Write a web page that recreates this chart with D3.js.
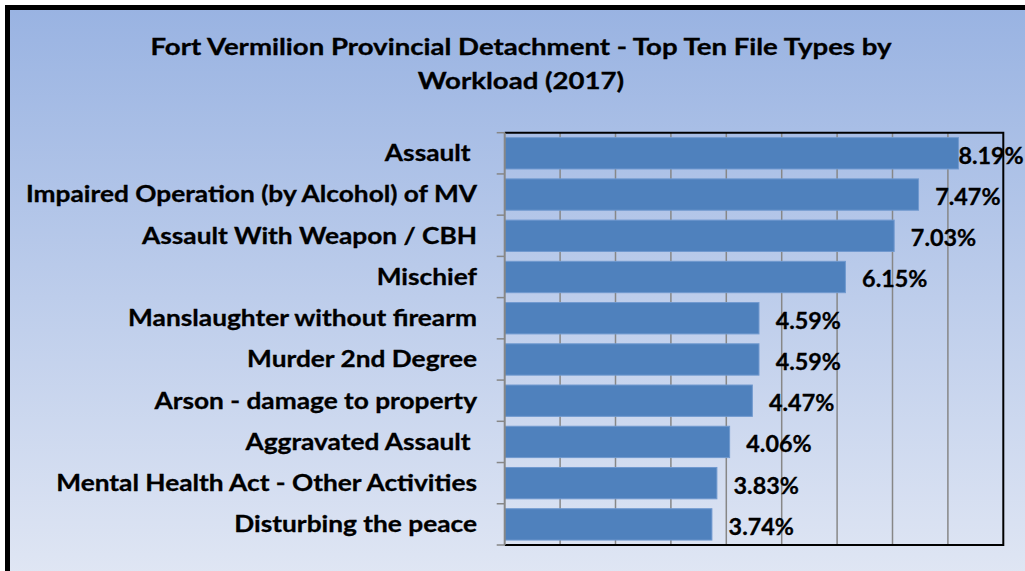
<!DOCTYPE html>
<html><head><meta charset="utf-8">
<script src="https://cdn.jsdelivr.net/npm/d3@7"></script>
<style>
html,body{margin:0;padding:0;background:#fff;}
svg text{font-family:Lato,"Open Sans",sans-serif;font-weight:700;white-space:pre;}
</style></head>
<body><svg id="c" width="1025" height="571"></svg>
<script>
const titleLines = ["Fort Vermilion Provincial Detachment - Top Ten File Types by", "Workload (2017)"];
const categories = ["Assault ", "Impaired Operation (by Alcohol) of MV", "Assault With Weapon / CBH", "Mischief",
  "Manslaughter without firearm", "Murder 2nd Degree", "Arson - damage to property", "Aggravated Assault ",
  "Mental Health Act - Other Activities", "Disturbing the peace"];
const values = [8.19, 7.47, 7.03, 6.15, 4.59, 4.59, 4.47, 4.06, 3.83, 3.74];
const xTicks = [0, 1, 2, 3, 4, 5, 6, 7, 8, 9];

(function () {
const svg = d3.select("#c");
const defs = svg.append("defs");
const grad = defs.append("linearGradient").attr("id", "bg").attr("x1", 0).attr("y1", 0).attr("x2", 0).attr("y2", 1);
grad.append("stop").attr("offset", "0%").attr("stop-color", "#99b3e2");
grad.append("stop").attr("offset", "100%").attr("stop-color", "#e1e7f4");

svg.append("rect").attr("x", 7.5).attr("y", 7.5).attr("width", 1040).attr("height", 580)
  .attr("fill", "url(#bg)").attr("stroke", "#000").attr("stroke-width", 5);

const FS = 22;

// Title
const tl = svg.append("g").selectAll("text").data(titleLines).join("text")
  .attr("x", 521).attr("y", (d, i) => 55 + i * 34)
  .attr("text-anchor", "middle").attr("font-size", FS).attr("fill", "#000")
  .attr("stroke", "#000").attr("stroke-width", 0.3).text(d => d);
const kT = 741 / tl.nodes()[0].getComputedTextLength();
tl.each(function () { const w = this.getComputedTextLength(); d3.select(this).attr("textLength", w * kT).attr("lengthAdjust", "spacingAndGlyphs"); });

const pL = 504.7, pR = 1003.3, pT = 132.7, pB = 545;
const x = d3.scaleLinear().domain([0, 9]).range([pL, pR]);
const y = d3.scaleBand().domain(categories).range([pT, pB]).paddingInner(0.24).paddingOuter(0.12);

// gridlines
svg.append("g").selectAll("line").data(xTicks.filter(t => t > 0 && t < 9)).join("line")
  .attr("x1", d => x(d)).attr("x2", d => x(d)).attr("y1", pT).attr("y2", pB)
  .attr("stroke", "#878787").attr("stroke-width", 1.5);

// bars
svg.append("g").selectAll("rect").data(values).join("rect")
  .attr("x", x(0)).attr("y", (d, i) => y(categories[i]))
  .attr("width", d => x(d) - x(0)).attr("height", y.bandwidth())
  .attr("fill", "#4f81bd").attr("stroke", "#7099cf").attr("stroke-width", 1);

// plot border (top, right, bottom)
svg.append("path").attr("d", `M${pL},${pT}H${pR}V${pB}H${pL}`)
  .attr("fill", "none").attr("stroke", "#000").attr("stroke-width", 2);

// category axis
const step = y.step();
const tickYs = d3.range(categories.length + 1).map(i => pT + i * step);
svg.append("line").attr("x1", pL).attr("x2", pL).attr("y1", pT).attr("y2", pB)
  .attr("stroke", "#878787").attr("stroke-width", 2);
svg.append("g").selectAll("line").data(tickYs).join("line")
  .attr("x1", pL - 8).attr("x2", pL).attr("y1", d => d).attr("y2", d => d)
  .attr("stroke", "#878787").attr("stroke-width", 1.5);

// category labels
const cl = svg.append("g").selectAll("text").data(categories).join("text")
  .attr("x", 477).attr("y", d => y(d) + y.bandwidth() / 2 + 0.36 * FS)
  .attr("text-anchor", "end").attr("font-size", FS).attr("fill", "#000")
  .attr("stroke", "#000").attr("stroke-width", 0.3).text(d => d);
let kC = 1;
cl.each(function (d) { if (d.startsWith("Impaired")) kC = 451 / this.getComputedTextLength(); });
cl.each(function () { const w = this.getComputedTextLength(); d3.select(this).attr("textLength", w * kC).attr("lengthAdjust", "spacingAndGlyphs"); });

// value labels
const fmt = d => d.toFixed(2) + "%";
const vl = svg.append("g").selectAll("text").data(values).join("text")
  .attr("y", (d, i) => y(categories[i]) + y.bandwidth() / 2 + 0.36 * FS + 2.5)
  .attr("font-size", FS).attr("fill", "#000")
  .attr("stroke", "#000").attr("stroke-width", 0.3).text(fmt);
let kV = 1;
vl.each(function (d) { if (d === 4.59) kV = 65.3 / this.getComputedTextLength(); });
vl.each(function (d) {
  const w = this.getComputedTextLength() * kV;
  let gx = x(d) + 16.7;
  if (gx + w > pR + 25) gx = x(d);
  d3.select(this).attr("x", gx).attr("textLength", w).attr("lengthAdjust", "spacingAndGlyphs");
});
})();
</script></body></html>
